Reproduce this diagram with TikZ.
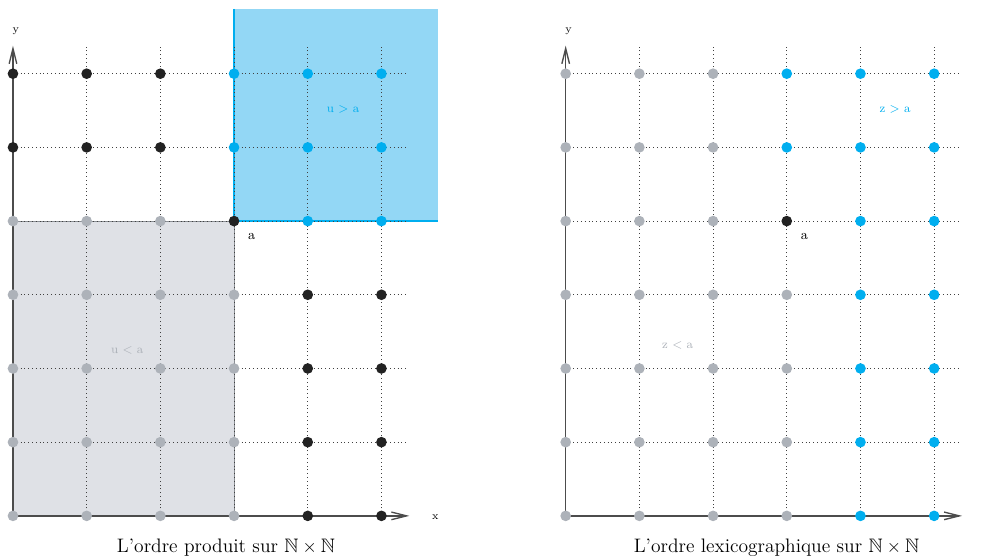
\documentclass[tikz,border=0pt]{standalone}
\usepackage{amsmath,amssymb}
\usepackage{xcolor}
\usepackage{tikz}
\usetikzlibrary{arrows.meta}
\definecolor{inkK}{HTML}{222222}
\definecolor{inkG}{HTML}{ADB2B9}
\definecolor{inkC}{HTML}{00AEEF}
\definecolor{fillC}{HTML}{93D7F5}
\definecolor{fillG}{HTML}{DFE1E6}

\begin{document}
\begin{tikzpicture}[
  x=1.7cm, y=1.7cm,
  font=\footnotesize,
  pt/.style={circle, inner sep=0pt, minimum size=7pt},
  ptK/.style={pt, fill=inkK},
  ptG/.style={pt, fill=inkG},
  ptC/.style={pt, fill=inkC},
  grid/.style={dotted, line width=0.5pt, black!75},
  axis/.style={line width=0.9pt, black!70, -{Straight Barb[length=10pt,width=5pt]}},
  tag/.style={font=\small},
  caption/.style={font=\fontsize{12.8}{15}\selectfont},
]
\useasboundingbox (-0.176,-0.556) rectangle (13.19,7.0);

% ---------- product order ----------
\fill[fillG] (0,0) rectangle (3,4);
\draw[inkG!80!black, line width=0.6pt] (0,4) -- (3,4) -- (3,0);
\fill[fillC] (3,4) rectangle (5.77,6.88);
\draw[inkC, line width=0.9pt] (3,6.88) -- (3,4) -- (5.77,4);

\foreach \j in {1,...,6} \draw[grid] (0,\j) -- (5.36,\j);
\foreach \i in {1,...,5} \draw[grid] (\i,0) -- (\i,6.39);
\draw[axis] (0,0) -- (5.38,0);
\draw[axis] (0,0) -- (0,6.38);
\node[font=\scriptsize] (lx) at (5.73,-0.02) {x};
\node[font=\scriptsize] (ly) at (0.04,6.58) {y};

\foreach \c [count=\i from 0] in {K,K,K,C,C,C} \node[pt\c] (l-\i-6) at (\i,6) {};
\foreach \c [count=\i from 0] in {K,K,K,C,C,C} \node[pt\c] (l-\i-5) at (\i,5) {};
\foreach \c [count=\i from 0] in {G,G,G,K,C,C} \node[pt\c] (l-\i-4) at (\i,4) {};
\foreach \j in {3,2,1,0} {
  \foreach \c [count=\i from 0] in {G,G,G,G,K,K} \node[pt\c] (l-\i-\j) at (\i,\j) {};
}

\node[tag] (la) at (3.24,3.79) {a};
\node[text=inkC] (lup) at (4.48,5.51) {u $>$ a};
\node[text=inkG] (llow) at (1.55,2.25) {u $<$ a};
\node[caption] (lcap) at (2.89,-0.43) {L'ordre produit sur $\mathbb{N}\times\mathbb{N}$};

% ---------- lexicographic order ----------
\begin{scope}[xshift=7.5*1.7cm]
\foreach \j in {1,...,6} \draw[grid] (0,\j) -- (5.36,\j);
\foreach \i in {1,...,5} \draw[grid] (\i,0) -- (\i,6.39);
\draw[axis] (0,0) -- (5.38,0);
\draw[axis] (0,0) -- (0,6.38);
\node[font=\scriptsize] (ry) at (0.04,6.58) {y};

\foreach \c [count=\i from 0] in {G,G,G,C,C,C} \node[pt\c] (r-\i-6) at (\i,6) {};
\foreach \c [count=\i from 0] in {G,G,G,C,C,C} \node[pt\c] (r-\i-5) at (\i,5) {};
\foreach \c [count=\i from 0] in {G,G,G,K,C,C} \node[pt\c] (r-\i-4) at (\i,4) {};
\foreach \j in {3,2,1,0} {
  \foreach \c [count=\i from 0] in {G,G,G,G,C,C} \node[pt\c] (r-\i-\j) at (\i,\j) {};
}

\node[tag] (ra) at (3.24,3.79) {a};
\node[text=inkC] (rup) at (4.47,5.51) {z $>$ a};
\node[text=inkG] (rlow) at (1.52,2.31) {z $<$ a};
\node[caption] (rcap) at (2.86,-0.43) {L'ordre lexicographique sur $\mathbb{N}\times\mathbb{N}$};
\end{scope}
\end{tikzpicture}
\end{document}
